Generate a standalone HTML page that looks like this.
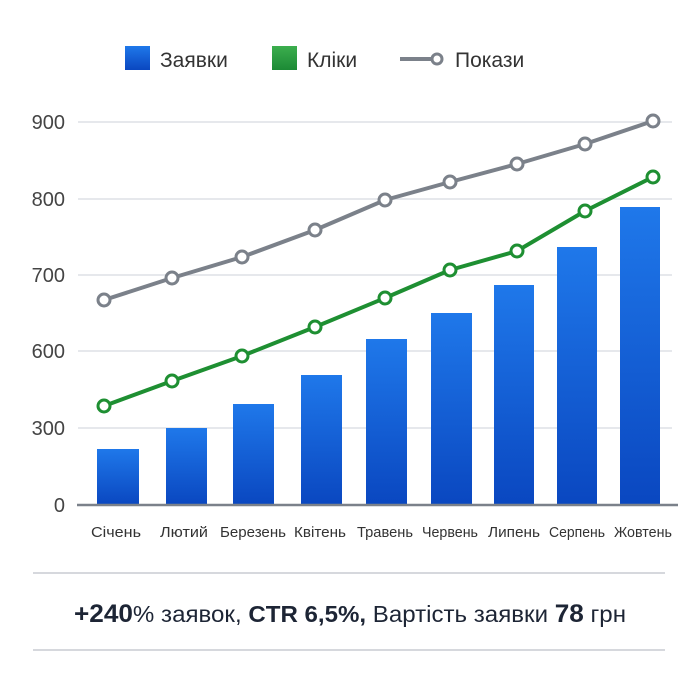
<!DOCTYPE html>
<html><head><meta charset="utf-8"><style>
body{margin:0;background:#fff;}
svg{display:block;font-family:"Liberation Sans","DejaVu Sans",sans-serif;}
</style></head><body>
<svg width="700" height="700" viewBox="0 0 700 700">
<defs>
<linearGradient id="bg" x1="0" y1="0" x2="0" y2="1">
<stop offset="0" stop-color="#1f78ea"/><stop offset="1" stop-color="#0a47c0"/>
</linearGradient>
<linearGradient id="gg" x1="0" y1="0" x2="0" y2="1">
<stop offset="0" stop-color="#3cae4e"/><stop offset="1" stop-color="#1c8a35"/>
</linearGradient>
</defs>
<!-- legend -->
<rect x="125" y="46" width="25" height="24" fill="url(#bg)"/>
<text x="160" y="67" font-size="21" fill="#333">Заявки</text>
<rect x="272" y="46" width="25" height="24" fill="url(#gg)"/>
<text x="307" y="67" font-size="21" fill="#333">Кліки</text>
<line x1="400" y1="59" x2="434" y2="59" stroke="#7b818a" stroke-width="4"/>
<circle cx="437" cy="59" r="5" fill="#fff" stroke="#7b818a" stroke-width="3"/>
<text x="455" y="67" font-size="21" fill="#333">Покази</text>
<!-- grid -->
<g stroke="#dde0e5" stroke-width="1.5">
<line x1="78" y1="122" x2="672" y2="122"/>
<line x1="78" y1="199" x2="672" y2="199"/>
<line x1="78" y1="275" x2="672" y2="275"/>
<line x1="78" y1="351" x2="672" y2="351"/>
<line x1="78" y1="428" x2="672" y2="428"/>
</g>
<g font-size="20" fill="#444" text-anchor="end">
<text x="65" y="129">900</text>
<text x="65" y="206">800</text>
<text x="65" y="282">700</text>
<text x="65" y="358">600</text>
<text x="65" y="435">300</text>
<text x="65" y="512">0</text>
</g>
<!-- bars -->
<g fill="url(#bg)">
<rect x="97" y="449" width="42" height="56"/>
<rect x="166" y="428" width="41" height="77"/>
<rect x="233" y="404" width="41" height="101"/>
<rect x="301" y="375" width="41" height="130"/>
<rect x="366" y="339" width="41" height="166"/>
<rect x="431" y="313" width="41" height="192"/>
<rect x="494" y="285" width="40" height="220"/>
<rect x="557" y="247" width="40" height="258"/>
<rect x="620" y="207" width="40" height="298"/>
</g>
<line x1="77" y1="505" x2="678" y2="505" stroke="#7b818a" stroke-width="2.5"/>
<!-- lines -->
<polyline fill="none" stroke="#7b818a" stroke-width="4" stroke-linejoin="round" points="104,300 172,278 242,257 315,230 385,200 450,182 517,164 585,144 653,121"/>
<g fill="#fff" stroke="#7b818a" stroke-width="3">
<circle cx="104" cy="300" r="6"/><circle cx="172" cy="278" r="6"/><circle cx="242" cy="257" r="6"/><circle cx="315" cy="230" r="6"/><circle cx="385" cy="200" r="6"/><circle cx="450" cy="182" r="6"/><circle cx="517" cy="164" r="6"/><circle cx="585" cy="144" r="6"/><circle cx="653" cy="121" r="6"/>
</g>
<polyline fill="none" stroke="#1e8f32" stroke-width="4" stroke-linejoin="round" points="104,406 172,381 242,356 315,327 385,298 450,270 517,251 585,211 653,177"/>
<g fill="#fff" stroke="#1e8f32" stroke-width="3">
<circle cx="104" cy="406" r="6"/><circle cx="172" cy="381" r="6"/><circle cx="242" cy="356" r="6"/><circle cx="315" cy="327" r="6"/><circle cx="385" cy="298" r="6"/><circle cx="450" cy="270" r="6"/><circle cx="517" cy="251" r="6"/><circle cx="585" cy="211" r="6"/><circle cx="653" cy="177" r="6"/>
</g>
<!-- x labels -->
<g font-size="15" fill="#333" text-anchor="middle">
<text x="116" y="537" textLength="50" lengthAdjust="spacingAndGlyphs">Січень</text>
<text x="184" y="537" textLength="48" lengthAdjust="spacingAndGlyphs">Лютий</text>
<text x="253" y="537" textLength="66" lengthAdjust="spacingAndGlyphs">Березень</text>
<text x="320" y="537" textLength="52" lengthAdjust="spacingAndGlyphs">Квітень</text>
<text x="385" y="537" textLength="56" lengthAdjust="spacingAndGlyphs">Травень</text>
<text x="450" y="537" textLength="56" lengthAdjust="spacingAndGlyphs">Червень</text>
<text x="514" y="537" textLength="52" lengthAdjust="spacingAndGlyphs">Липень</text>
<text x="577" y="537" textLength="56" lengthAdjust="spacingAndGlyphs">Серпень</text>
<text x="643" y="537" textLength="58" lengthAdjust="spacingAndGlyphs">Жовтень</text>
</g>
<line x1="33" y1="573" x2="665" y2="573" stroke="#c9ccd2" stroke-width="1.5"/>
<line x1="33" y1="650" x2="665" y2="650" stroke="#c9ccd2" stroke-width="1.5"/>
<text x="350" y="622" font-size="23" fill="#1d2535" text-anchor="middle" textLength="552" lengthAdjust="spacingAndGlyphs"><tspan font-weight="bold" font-size="25">+240</tspan>% заявок, <tspan font-weight="bold">CTR 6,5%,</tspan> Вартість заявки <tspan font-weight="bold" font-size="25">78</tspan> грн</text>
</svg>
</body></html>
